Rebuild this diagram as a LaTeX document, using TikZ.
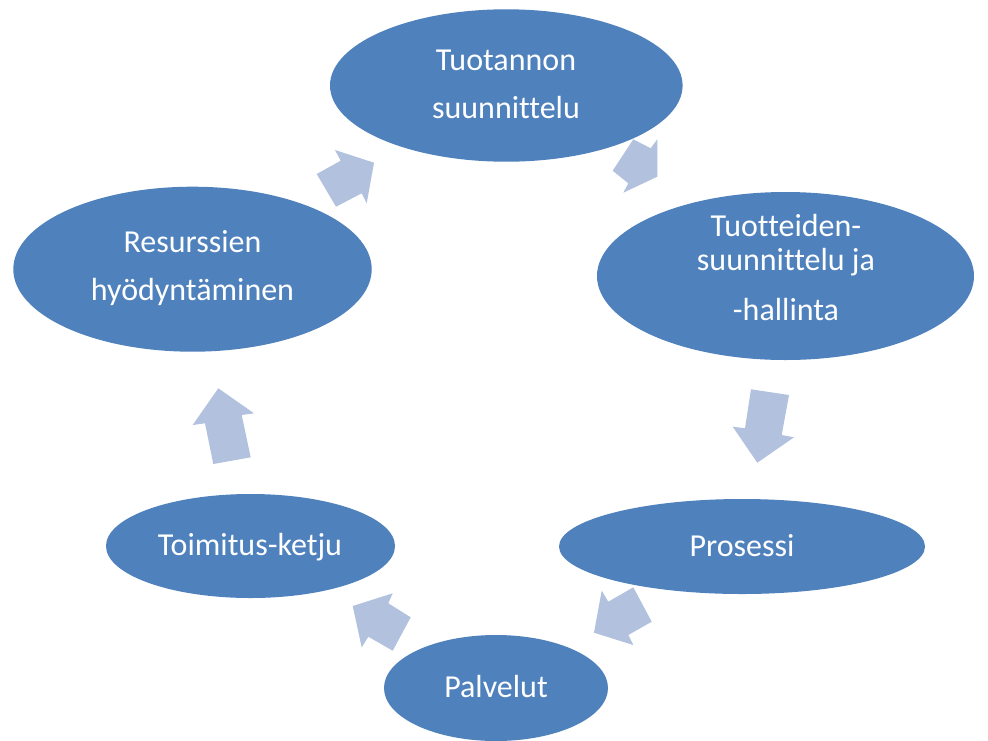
\documentclass[tikz,border=0pt]{standalone}
\usepackage{fontspec}
\setmainfont[Ligatures=NoCommon]{Carlito}
\usetikzlibrary{shapes.geometric}
\definecolor{ellblue}{RGB}{79,129,189}
\definecolor{arrblue}{RGB}{178,193,221}
\tikzset{
  bubble/.style={ellipse, fill=ellblue, draw=none, inner sep=0pt},
  lbl/.style={anchor=base, text=white, font=\fontsize{32}{38}\selectfont, inner sep=0pt},
  blockarrow/.style={fill=arrblue, draw=none}
}
\begin{document}
\begin{tikzpicture}[x=1pt,y=-1pt]
\useasboundingbox (0,0) rectangle (988,740);
\clip (0,0) rectangle (988,740);
\fill[white] (0,0) rectangle (988,740);
% block arrows
\fill[blockarrow] (335,150) -- (374,162.7) -- (366.7,203.3) -- (361.7,193.3) -- (336,206.7) -- (316.7,174) -- (340.7,160.7) -- cycle;
\fill[blockarrow] (633.3,139.3) -- (650.7,148.3) -- (657.3,139.3) -- (657.3,176.7) -- (623.3,192.7) -- (628.3,183.3) -- (612.7,170.7) -- cycle;
\fill[blockarrow] (751,389.3) -- (789,395) -- (781.7,435) -- (794,437.3) -- (757.3,462.7) -- (732.7,426.7) -- (745,428.3) -- cycle;
\fill[blockarrow] (633.3,587.3) -- (651.7,621.7) -- (628.3,635) -- (633.3,645) -- (594,632.7) -- (601.7,590.7) -- (608.3,601.7) -- cycle;
\fill[blockarrow] (352.7,606) -- (392.7,593.3) -- (388.3,603.3) -- (410.7,617.3) -- (392.7,650.7) -- (368.3,636.7) -- (361.7,647.3) -- cycle;
\fill[blockarrow] (218.3,388.3) -- (254,413.3) -- (241.7,415) -- (250.7,457.3) -- (213.3,464) -- (205,423.3) -- (192.7,425) -- cycle;
% ellipses
\node[bubble, minimum width=352.6pt, minimum height=152.4pt] (e1) at (506.3,85.5) {};
\node[bubble, minimum width=377pt, minimum height=168pt] (e2) at (785.5,276) {};
\node[bubble, minimum width=366pt, minimum height=95pt] (e3) at (742,546.5) {};
\node[bubble, minimum width=224pt, minimum height=106pt] (e4) at (496,688) {};
\node[bubble, minimum width=289pt, minimum height=104pt] (e5) at (250.5,546) {};
\node[bubble, minimum width=358.4pt, minimum height=165pt] (e6) at (192.5,269.2) {};
% labels
\node[lbl] (t1a) at (506,70) {Tuotannon};
\node[lbl] (t1b) at (506,118) {suunnittelu};
\node[lbl] (t2a) at (786,236) {Tuotteiden-};
\node[lbl] (t2b) at (786,270) {suunnittelu ja};
\node[lbl] (t2c) at (786,320) {-hallinta};
\node[lbl] (t3) at (742,556.7) {Prosessi};
\node[lbl] (t4) at (496,697.3) {Palvelut};
\node[lbl] (t5) at (250,555) {Toimitus-ketju};
\node[lbl] (t6a) at (192.5,252.7) {Resurssien};
\node[lbl] (t6b) at (192.5,300.7) {hyödyntäminen};
\end{tikzpicture}
\end{document}
